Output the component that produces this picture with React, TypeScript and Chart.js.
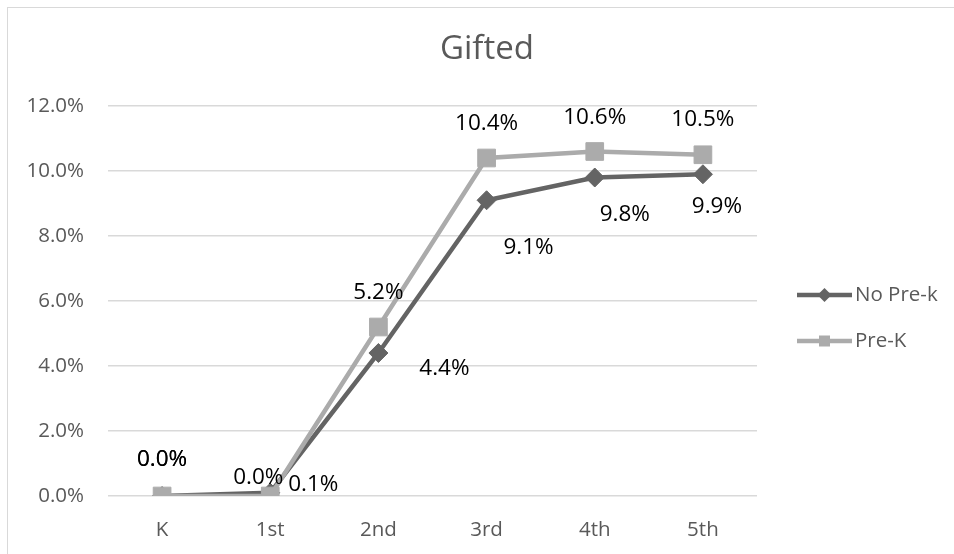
import React, { useEffect, useRef } from "react";
import { Chart, registerables } from "chart.js";

Chart.register(...registerables);

const title = "Gifted";
const categories = ["K", "1st", "2nd", "3rd", "4th", "5th"];
const noPreKLabel = "No Pre-k";
const preKLabel = "Pre-K";
const noPreK = [0.0, 0.1, 4.4, 9.1, 9.8, 9.9];
const preK = [0.0, 0.0, 5.2, 10.4, 10.6, 10.5];
const yTicks = [0, 2, 4, 6, 8, 10, 12];

const DARK = "#646464";
const LIGHT = "#ababab";
const TEXT = "#595959";
const GRID = "#d9d9d9";
const FONT = "'Open Sans', 'Noto Sans', sans-serif";

// label placement offsets (px) relative to each point, per dataset index
const labelOffsets: Record<number, [number, number][]> = {
  0: [
    [0, -36],
    [-12, -18],
    [0, -34],
    [0, -34],
    [0, -34],
    [0, -35],
  ],
  1: [
    [0, -36],
    [43, -8],
    [66, 16],
    [42, 47],
    [30, 37],
    [14, 32],
  ],
};

const fmt = (v: number) => v.toFixed(1) + "%";

const titlePlugin = {
  id: "customTitle",
  afterDraw(chart: any) {
    const { ctx } = chart;
    ctx.save();
    ctx.font = `33px ${FONT}`;
    ctx.fillStyle = TEXT;
    ctx.textAlign = "center";
    ctx.textBaseline = "middle";
    ctx.fillText(title, 487, 50);
    ctx.restore();
  },
};

const labelPlugin = {
  id: "pointLabels",
  afterDatasetsDraw(chart: any) {
    const { ctx } = chart;
    ctx.save();
    ctx.font = `22.5px ${FONT}`;
    ctx.fillStyle = "#000000";
    ctx.textAlign = "center";
    ctx.textBaseline = "middle";
    chart.data.datasets.forEach((ds: any, di: number) => {
      const meta = chart.getDatasetMeta(di);
      meta.data.forEach((pt: any, i: number) => {
        const off = labelOffsets[di][i];
        ctx.fillText(fmt(ds.data[i]), pt.x + off[0], pt.y + off[1]);
      });
    });
    ctx.restore();
  },
};

const legendPlugin = {
  id: "customLegend",
  afterDraw(chart: any) {
    const { ctx, chartArea } = chart;
    const x0 = chartArea.right + 40;
    const x1 = chartArea.right + 95;
    const mx = (x0 + x1) / 2;
    const items = [
      { label: noPreKLabel, color: DARK, y: 295, kind: "diamond" },
      { label: preKLabel, color: LIGHT, y: 341, kind: "square" },
    ];
    ctx.save();
    items.forEach((it) => {
      ctx.strokeStyle = it.color;
      ctx.fillStyle = it.color;
      ctx.lineWidth = 4.5;
      ctx.beginPath();
      ctx.moveTo(x0, it.y);
      ctx.lineTo(x1, it.y);
      ctx.stroke();
      ctx.beginPath();
      if (it.kind === "diamond") {
        const r = 7;
        ctx.moveTo(mx - r, it.y);
        ctx.lineTo(mx, it.y - r);
        ctx.lineTo(mx + r, it.y);
        ctx.lineTo(mx, it.y + r);
        ctx.closePath();
      } else {
        const s = 5.5;
        ctx.rect(mx - s, it.y - s, 2 * s, 2 * s);
      }
      ctx.fill();
      ctx.font = `20.5px ${FONT}`;
      ctx.fillStyle = TEXT;
      ctx.textAlign = "left";
      ctx.textBaseline = "middle";
      ctx.fillText(it.label, x1 + 3, it.y);
    });
    ctx.restore();
  },
};

export default function App() {
  const ref = useRef<HTMLCanvasElement | null>(null);

  useEffect(() => {
    if (!ref.current) return;
    const chart = new Chart(ref.current, {
      type: "line",
      data: {
        labels: categories,
        datasets: [
          {
            label: preKLabel,
            data: preK,
            borderColor: LIGHT,
            backgroundColor: LIGHT,
            borderWidth: 4.5,
            pointStyle: "rect",
            pointRadius: 12.5,
            pointBorderWidth: 1,
            tension: 0,
            order: 0,
          },
          {
            label: noPreKLabel,
            data: noPreK,
            borderColor: DARK,
            backgroundColor: DARK,
            borderWidth: 4.5,
            pointStyle: "rectRot",
            pointRadius: 9.5,
            pointBorderWidth: 1,
            tension: 0,
            order: 1,
          },
        ],
      },
      options: {
        responsive: false,
        animation: false,
        events: [],
        layout: { padding: { top: 106, right: 197, left: 0, bottom: 0 } },
        plugins: {
          legend: { display: false },
          title: { display: false },
          tooltip: { enabled: false },
        },
        scales: {
          x: {
            offset: true,
            grid: { display: false, drawTicks: false, offset: true },
            border: { display: false },
            ticks: {
              padding: 22,
              color: TEXT,
              font: { family: FONT, size: 20.5 },
            },
            afterFit: (s: any) => {
              s.height = 58;
            },
          },
          y: {
            min: yTicks[0],
            max: yTicks[yTicks.length - 1],
            afterBuildTicks: (s: any) => {
              s.ticks = yTicks.map((v) => ({ value: v }));
            },
            grid: { color: GRID, lineWidth: 1.5, drawTicks: false },
            border: { display: false },
            ticks: {
              padding: 24,
              color: TEXT,
              font: { family: FONT, size: 20.5 },
              callback: (v: any) => fmt(Number(v)),
            },
            afterFit: (s: any) => {
              s.width = 108;
            },
          },
        },
      },
      plugins: [titlePlugin, labelPlugin, legendPlugin],
    });
    return () => chart.destroy();
  }, []);

  return (
    <div
      style={{
        position: "fixed",
        left: 0,
        top: 0,
        width: 954,
        height: 554,
        overflow: "hidden",
        background: "#ffffff",
      }}
    >
      <div
        style={{
          position: "absolute",
          left: 7,
          top: 7,
          width: 1000,
          height: 600,
          border: `1.5px solid ${GRID}`,
        }}
      />
      <canvas
        ref={ref}
        width={954}
        height={554}
        style={{ position: "absolute", left: 0, top: 0, width: 954, height: 554 }}
      />
    </div>
  );
}
